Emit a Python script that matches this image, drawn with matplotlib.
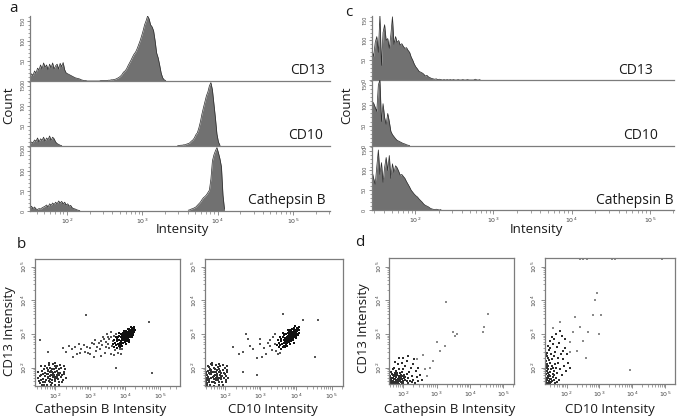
import numpy as np
import matplotlib
matplotlib.use('Agg')
import matplotlib.pyplot as plt
from matplotlib.ticker import LogLocator, FixedLocator, MultipleLocator, NullFormatter, FuncFormatter

plt.rcParams['font.family'] = ['Open Sans', 'DejaVu Sans']
plt.rcParams['mathtext.fontset'] = 'dejavusans'

# ---------------- data ----------------
# histogram bins: width 0.02 in log10(intensity); each segment starts at given log10 value
BIN = 0.02
# panel a
a_cd13_start = 1.50
a_cd13 = [10, 18, 14, 25, 20, 32, 28, 40, 30, 45, 35, 40, 28, 42, 33, 45, 30, 38, 42, 30,
          44, 36, 46, 28, 20, 18, 16, 14, 12, 10, 8, 7, 6, 5, 3, 2, 1, 1, 0, 0,
          0, 0, 0, 0, 0, 0, 0, 1, 1, 1, 1, 1, 2, 2, 3, 3, 4, 5, 7, 9,
          12, 16, 22, 25, 30, 38, 45, 52, 60, 67, 72, 80, 90, 100, 112, 125, 140, 150, 162, 155,
          140, 135, 125, 100, 70, 58, 40, 20, 8, 3, 1]
a_cd10_lo_start = 1.50
a_cd10_lo = [5, 10, 8, 15, 12, 20, 10, 18, 14, 22, 12, 20, 16, 25, 14, 22, 18, 10, 6, 4, 2, 1]
a_cd10_hi_start = 3.46
a_cd10_hi = [1, 1, 2, 2, 3, 3, 5, 6, 8, 12, 15, 20, 28, 33, 45, 60, 79, 95, 110, 125,
             135, 150, 158, 140, 105, 70, 30, 10, 2]
a_cb_lo_start = 1.50
a_cb_lo = [8, 12, 6, 10, 5, 4, 6, 5, 8, 10, 12, 15, 10, 18, 14, 20, 16, 22, 18, 25,
           20, 24, 18, 22, 15, 18, 12, 14, 8, 6, 5, 3, 2, 1]
a_cb_hi_start = 3.60
a_cb_hi = [2, 3, 5, 6, 8, 10, 14, 18, 22, 28, 33, 36, 40, 46, 52, 80, 125, 140, 150, 158,
           145, 130, 110, 40, 5]
# panel c
c_start = 1.44
c_cd13 = [75, 60, 95, 110, 70, 165, 37, 120, 140, 100, 105, 80, 115, 160, 90, 110, 95, 100, 88, 92,
          85, 80, 82, 75, 70, 58, 50, 40, 33, 28, 22, 20, 18, 15, 10, 12, 8, 6, 4, 3,
          2, 3, 1, 2, 1, 0, 1, 0, 1, 0, 1, 0, 1, 0, 0, 1, 0, 0, 1, 0,
          0, 1, 0, 0, 0, 0, 2, 0, 0, 1]
c_cd10 = [110, 105, 95, 85, 150, 162, 60, 104, 70, 53, 80, 60, 36, 28, 23, 18, 14, 12, 10, 8,
          6, 5, 3, 2, 1]
c_cb = [98, 80, 65, 110, 152, 90, 120, 70, 108, 133, 100, 138, 80, 117, 95, 112, 107, 98, 88, 90,
        85, 80, 72, 65, 58, 50, 45, 40, 36, 33, 28, 24, 20, 15, 12, 10, 8, 5, 3, 2,
        1, 2, 1, 0, 1]

# scatter points: (log10(x)*100, log10(y)*100)
b1_hi = [(405,295),(408,298),(402,292),(410,300),(400,290),(412,303),(398,288),(406,296),(403,299),(409,293),
         (415,305),(395,285),(404,290),(411,297),(401,296),(407,302),(413,299),(399,293),(396,290),(414,308),
         (417,306),(393,287),(406,289),(409,305),(402,287),(418,310),(392,282),(405,300),(400,298),(411,292),
         (416,302),(397,295),(408,291),(403,284),(412,310),(394,292),(420,312),(391,285),(407,296),(404,303),
         (419,305),(389,280),(410,288),(401,283),(414,296),(398,299),(406,307),(415,312),(396,282),(409,286),
         (385,275),(388,290),(392,298),(380,272),(384,283),(390,276),(395,302),(386,268),(421,318),(423,309),
         (425,315),(418,298),(422,300),(384,295),(378,280),(382,265),(390,270),(399,305),(403,310),(413,316),
         (427,320),(416,292),(411,284),(400,278),(394,275),(387,262),(375,268),(377,285),(420,295),(426,305),
         (381,290),(372,275),(397,310),(408,315),(417,322),(370,262),(374,292),(393,265),(405,280),(412,276),
         (428,312),(383,302),(376,258),(389,300),(402,272),(419,290),(424,298),(365,270),(368,282),(407,285)]
b1_mid = [(250,232),(262,240),(275,255),(285,248),(290,262),(300,258),(310,270),(320,262),(325,275),(330,280),
          (335,268),(340,285),(345,278),(350,290),(352,272),(355,285),(360,292),(362,265),(365,280),(368,295),
          (345,262),(338,290),(328,255),(315,282),(305,275),(295,245),(282,268),(270,245),(258,262),(248,255),
          (342,245),(355,258),(360,240),(372,252),(380,245),(375,300),(360,305),(348,300),(370,238),(385,255),
          (330,235),(318,250),(268,272),(240,265),(232,248),(222,260),(300,242),(312,232),(388,240),(392,255),
          (289,356),(470,336),(179,247),(156,282),(479,185),(375,198),(213,522),(222,522),(418,522)]
b1_lo = [(195,184),(190,180),(200,188),(185,175),(205,192),(180,170),(210,178),(188,190),(198,172),(192,165),
         (175,182),(202,198),(215,185),(182,160),(170,175),(208,168),(196,195),(186,200),(178,190),(212,195),
         (165,168),(220,178),(200,160),(190,155),(172,158),(160,180),(218,200),(205,205),(183,208),(168,195),
         (225,188),(176,150),(194,210),(158,165),(210,158),(222,165),(162,192),(188,149),(200,150),(214,208),
         (155,175),(228,195),(170,205),(196,178),(186,168),(204,180),(180,182),(192,188),(198,166),(174,164),
         (166,182),(184,188),(206,174),(216,172),(178,172),(190,196),(202,170),(176,198),(156,155),(162,150),
         (230,170),(224,205),(152,188),(168,150),(212,150),(220,158),(182,215),(200,213),(160,205),(154,160),
         (194,172),(188,178),(180,194),(208,186),(172,186),(186,158),(199,204),(165,158),(226,182),(150,170)]

b2_hi = [(386,295),(389,298),(383,292),(391,301),(381,289),(393,304),(379,287),(387,297),(384,300),(390,292),
         (396,306),(376,284),(385,290),(392,296),(382,296),(388,303),(394,299),(380,293),(377,289),(395,309),
         (398,307),(374,285),(387,288),(390,306),(383,286),(399,311),(373,281),(386,301),(381,298),(392,291),
         (397,302),(378,295),(389,290),(384,283),(393,311),(375,291),(401,313),(372,283),(388,296),(385,304),
         (400,305),(370,279),(391,287),(382,282),(395,296),(379,300),(387,308),(396,313),(377,281),(390,285),
         (366,274),(369,289),(373,299),(361,271),(365,282),(371,275),(376,303),(367,266),(402,319),(404,308),
         (406,316),(399,297),(403,300),(365,296),(359,279),(363,263),(371,268),(380,306),(384,311),(394,317),
         (408,321),(397,291),(392,282),(381,277),(375,274),(368,261),(356,267),(358,286),(401,294),(407,304),
         (362,290),(353,274),(378,311),(389,316),(398,323),(351,261),(355,292),(374,264),(386,279),(393,275),
         (409,312),(364,303),(357,257),(370,300),(383,271),(400,289),(405,298),(346,269),(349,282),(388,284)]
b2_mid = [(223,262),(266,287),(252,247),(299,272),(303,233),(327,282),(332,252),(289,178),(252,188),(454,233),
          (463,341),(420,341),(364,361),(310,260),(340,270),(345,250),(335,290),(320,275),(350,240),(280,255),
          (300,285),(315,240),(328,265),(342,300),(355,245),(290,230),(270,265),(240,240),(260,300),
          (158,522),(172,522),(444,522)]
b2_lo = [(177,183),(172,179),(182,187),(167,174),(187,191),(162,169),(192,177),(170,189),(180,171),(174,164),
         (157,181),(184,197),(197,184),(164,159),(152,174),(190,167),(178,194),(168,199),(160,189),(194,194),
         (155,167),(202,177),(182,159),(172,154),(154,157),(150,179),(200,199),(187,204),(165,207),(158,194),
         (205,187),(158,149),(176,209),(151,164),(192,157),(204,164),(153,191),(170,147),(182,149),(196,207),
         (156,202),(207,194),(152,204),(178,177),(168,167),(186,179),(162,181),(174,187),(180,165),(156,163),
         (148,181),(166,187),(188,173),(198,171),(160,171),(172,195),(184,169),(158,197),(150,154),(146,149),
         (208,169),(206,204),(147,187),(150,149),(194,149),(202,157),(164,214),(182,212),(160,210),(148,159),
         (176,171),(170,177),(162,193),(190,185),(154,185),(168,157),(181,203),(147,157),(200,181),(149,169)]

d1_lo = [(165,155),(170,160),(175,152),(180,165),(168,170),(185,158),(190,162),(172,175),(178,150),(195,168),
         (162,165),(188,172),(200,155),(182,178),(174,158),(192,150),(205,165),(166,182),(198,176),(186,152),
         (210,160),(176,168),(194,158),(170,152),(184,166),(202,180),(215,170),(160,175),(190,185),(178,190),
         (208,150),(220,162),(196,188),(168,195),(182,185),(225,175),(212,182),(230,165),(172,200),(188,196),
         (200,195),(218,188),(235,155),(240,172),(163,188),(176,178),(192,174),(206,172),(180,158),(174,185),
         (165,160),(186,170),(198,162),(214,156),(226,158),(244,162),(250,178),(238,190),(222,198),(205,205),
         (185,210),(195,215),(210,220),(228,210),(175,218),(245,200),(232,225),(200,230),(215,235),(188,228),
         (255,165),(248,150),(166,152),(171,166),(183,160),(193,180),(203,170),(179,173),(169,179),(187,176),
         (163,156),(168,162),(173,157),(177,163),(181,153),(164,171),(171,155),(189,167),(196,154),(161,160),
         (158,151),(158,154),(158,157),(158,160),(158,163),(158,166),(158,169),(158,172),(158,175),(158,178),
         (158,181),(158,184),(158,187),(158,190),(158,193),(158,196),(158,199),(158,202),(158,206),(158,210),
         (158,214),(158,219),(158,224),(158,230)]
d1_sparse = [(330,396),(455,361),(442,322),(440,307),(350,305),(362,299),(355,293),(300,277),(260,238),(290,220),
             (240,225),(270,175),(310,250),(325,265),(280,200),(265,195)]

d2_lo = [(140,155),(145,162),(150,152),(138,170),(148,175),(155,160),(142,185),(152,168),(160,178),(136,160),
         (144,195),(158,150),(162,190),(146,180),(139,200),(154,205),(166,170),(141,210),(150,188),(170,158),
         (137,220),(148,215),(157,198),(164,210),(172,185),(143,230),(156,225),(168,200),(152,240),(176,165),
         (140,245),(160,235),(146,252),(174,215),(180,195),(150,260),(165,248),(142,265),(158,272),(185,180),
         (148,280),(170,262),(182,240),(155,290),(138,240),(162,285),(188,225),(178,275),(192,205),(168,300),
         (145,151),(153,158),(161,164),(149,167),(157,174),(135,175),(143,177),(151,196),(159,183),(165,155),
         (198,190),(200,240),(195,260),(205,215),(185,295),(175,230),(190,250),(210,200),(180,310),(195,285),
         (139,153),(141,164),(144,170),(137,183),(147,158),(140,190),(136,205),(145,222),(139,235),(143,205),
         (134,151),(134,155),(134,159),(134,163),(134,167),(134,171),(134,175),(134,179),(134,183),(134,187),
         (134,191),(134,195),(134,199),(134,203),(134,208),(134,213),(134,218),(134,224),(134,230),(134,238)]
d2_sparse = [(291,421),(286,401),(281,357),(306,357),(225,351),(180,337),(266,307),(393,193),(210,277),(159,317),
             (219,307),(210,247),(240,320),(250,280),(230,250),(260,230),(300,300),
             (241,523),(251,523),(261,523),(337,523),(347,523),(490,523)]

# ---------------- drawing ----------------
W, H = 685, 418
fig = plt.figure(figsize=(6.85, 4.18), dpi=100)
FILL = '#717171'
EDGE = '#2a2a2a'
AXC = '#7c7c7c'
TXT = '#1a1a1a'


def pow_fmt(v, pos):
    e = int(round(np.log10(v)))
    return r'$10^{%d}$' % e


def add_ax(left, right, top, bottom):
    return fig.add_axes([left / W, 1 - bottom / H, (right - left) / W, (bottom - top) / H])


def hist_ax(left, right, top, bottom, xr, with_x):
    ax = add_ax(left, right, top, bottom)
    ax.set_facecolor('none')
    ax.set_xscale('log')
    ax.set_xlim(10 ** xr[0], 10 ** xr[1])
    ax.set_ylim(0, 162)
    for s in ('top', 'right'):
        ax.spines[s].set_visible(False)
    for s in ('left', 'bottom'):
        ax.spines[s].set_color(AXC)
        ax.spines[s].set_linewidth(0.9)
    ax.yaxis.set_major_locator(FixedLocator([0, 50, 100, 150]))
    ax.yaxis.set_minor_locator(MultipleLocator(10))
    ax.tick_params(axis='y', which='major', length=2.5, width=0.6, color=AXC,
                   labelsize=4, pad=0.8, labelcolor='#444444', labelrotation=90)
    ax.tick_params(axis='y', which='minor', length=1.5, width=0.5, color=AXC)
    for lab in ax.get_yticklabels():
        lab.set_va('center')
    if with_x:
        ax.xaxis.set_major_locator(FixedLocator([1e2, 1e3, 1e4, 1e5]))
        ax.xaxis.set_minor_locator(LogLocator(base=10, subs=np.arange(2, 10)))
        ax.xaxis.set_major_formatter(FuncFormatter(pow_fmt))
        ax.xaxis.set_minor_formatter(NullFormatter())
        ax.tick_params(axis='x', which='major', length=3, width=0.6, color=AXC,
                       labelsize=4.5, pad=1, labelcolor='#444444')
        ax.tick_params(axis='x', which='minor', length=2, width=0.5, color=AXC)
    else:
        ax.tick_params(axis='x', which='both', bottom=False, labelbottom=False)
    return ax


def draw_hist(ax, start, counts):
    c = np.asarray(counts, dtype=float)
    centers = 10 ** (start + BIN * (np.arange(len(c)) + 0.5))
    ax.fill_between(centers, 0, c, color=FILL, linewidth=0)
    ax.plot(centers, c, color=EDGE, linewidth=0.5)


# panel a
a_rows = [(16, 81), (81, 146), (146, 211)]
axa = [hist_ax(30, 330, t, b, (1.51, 5.49), i == 2) for i, (t, b) in enumerate(a_rows)]
draw_hist(axa[0], a_cd13_start, a_cd13)
draw_hist(axa[1], a_cd10_lo_start, a_cd10_lo)
draw_hist(axa[1], a_cd10_hi_start, a_cd10_hi)
draw_hist(axa[2], a_cb_lo_start, a_cb_lo)
draw_hist(axa[2], a_cb_hi_start, a_cb_hi)

# panel c
c_rows = [(16, 80), (80, 146), (146, 210)]
axc = [hist_ax(371.7, 674, t, b, (1.445, 5.31), i == 2) for i, (t, b) in enumerate(c_rows)]
draw_hist(axc[0], c_start, c_cd13)
draw_hist(axc[1], c_start, c_cd10)
draw_hist(axc[2], c_start, c_cb)


def scat_ax(left, right, top, bottom, xr, yr):
    ax = add_ax(left, right, top, bottom)
    ax.set_xscale('log')
    ax.set_yscale('log')
    ax.set_xlim(10 ** xr[0], 10 ** xr[1])
    ax.set_ylim(10 ** yr[0], 10 ** yr[1])
    for s in ax.spines.values():
        s.set_color(AXC)
        s.set_linewidth(0.9)
    for axis in (ax.xaxis, ax.yaxis):
        axis.set_major_locator(FixedLocator([1e2, 1e3, 1e4, 1e5]))
        axis.set_minor_locator(LogLocator(base=10, subs=np.arange(2, 10)))
        axis.set_major_formatter(FuncFormatter(pow_fmt))
        axis.set_minor_formatter(NullFormatter())
    ax.tick_params(which='major', length=3, width=0.6, color=AXC, labelsize=4.5, pad=1,
                   labelcolor='#444444')
    ax.tick_params(which='minor', length=1.8, width=0.5, color=AXC)
    ax.tick_params(axis='y', labelrotation=90)
    for lab in ax.get_yticklabels():
        lab.set_va('center')
    return ax


def draw_pts(ax, pts, color, size=0.9):
    arr = np.array(pts, dtype=float) / 100.0
    ax.scatter(10 ** arr[:, 0], 10 ** arr[:, 1], s=size, marker='s', c=color,
               linewidths=0, clip_on=True)


axb1 = scat_ax(35, 180, 259, 386, (1.42, 5.58), (1.46, 5.23))
draw_pts(axb1, b1_lo, '#333333', 1.1)
draw_pts(axb1, b1_mid, '#555555', 0.7)
draw_pts(axb1, b1_hi, '#111111', 1.5)

axb2 = scat_ax(205, 343, 259, 386, (1.44, 5.32), (1.46, 5.23))
draw_pts(axb2, b2_lo, '#333333', 1.1)
draw_pts(axb2, b2_mid, '#555555', 0.7)
draw_pts(axb2, b2_hi, '#111111', 1.5)

axd1 = scat_ax(389.3, 514, 258.3, 384.3, (1.58, 5.33), (1.51, 5.25))
draw_pts(axd1, d1_lo, '#2e2e2e', 1.2)
draw_pts(axd1, d1_sparse, '#8a8a8a', 0.7)

axd2 = scat_ax(545, 675, 258.3, 384.3, (1.34, 5.30), (1.51, 5.25))
draw_pts(axd2, d2_lo, '#2e2e2e', 1.2)
draw_pts(axd2, d2_sparse, '#8a8a8a', 0.7)


def ftext(px, py, s, size=9.5, **kw):
    fig.text(px / W, 1 - py / H, s, fontsize=size, color=TXT, **kw)


# histogram labels
ftext(325, 70.5, 'CD13', size=10, ha='right', va='center')
ftext(323, 136, 'CD10', size=10, ha='right', va='center')
ftext(326, 200, 'Cathepsin B', size=10, ha='right', va='center')
ftext(653, 70.5, 'CD13', size=10, ha='right', va='center')
ftext(658, 136, 'CD10', size=10, ha='right', va='center')
ftext(673, 200, 'Cathepsin B', size=10, ha='right', va='center')
ftext(9, 105, 'Count', ha='center', va='center', rotation=90)
ftext(347, 105, 'Count', ha='center', va='center', rotation=90)
ftext(182, 230, 'Intensity', ha='center', va='center')
ftext(536, 230, 'Intensity', ha='center', va='center')

# scatter labels
ftext(10, 331, 'CD13 Intensity', ha='center', va='center', rotation=90)
ftext(363, 328, 'CD13 Intensity', ha='center', va='center', rotation=90)
ftext(101, 409, 'Cathepsin B Intensity', ha='center', va='center')
ftext(273, 409, 'CD10 Intensity', ha='center', va='center')
ftext(450, 409, 'Cathepsin B Intensity', ha='center', va='center')
ftext(610, 409, 'CD10 Intensity', ha='center', va='center')

# panel letters
ftext(13, 8, 'a', size=11, ha='center', va='center')
ftext(349, 12, 'c', size=11, ha='center', va='center')
ftext(21, 245, 'b', size=11, ha='center', va='center')
ftext(360, 243, 'd', size=11, ha='center', va='center')

fig.savefig('out.png', dpi=100)
